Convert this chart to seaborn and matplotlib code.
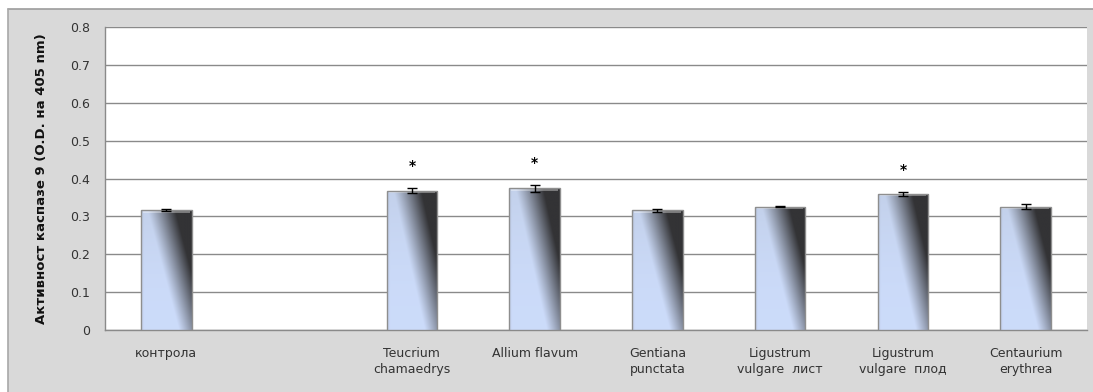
import numpy as np
import pandas as pd
import matplotlib
matplotlib.use("Agg")
import matplotlib.pyplot as plt
from matplotlib.patches import Rectangle
import seaborn as sns

# Caspase-9 activity per extract (O.D. at 405 nm)
categories = ["контрола", "", "Teucrium\nchamaedrys", "Allium flavum",
              "Gentiana\npunctata", "Ligustrum\nvulgare  лист",
              "Ligustrum\nvulgare  плод", "Centaurium\nerythrea"]
values = [0.316, np.nan, 0.368, 0.374, 0.316, 0.326, 0.359, 0.326]
errors = [0.003, np.nan, 0.006, 0.009, 0.004, 0.002, 0.006, 0.006]
significant = [False, False, True, True, False, False, True, False]
yticks = [0.0, 0.1, 0.2, 0.3, 0.4, 0.5, 0.6, 0.7, 0.8]
ytick_labels = ["0", "0.1", "0.2", "0.3", "0.4", "0.5", "0.6", "0.7", "0.8"]
ylabel = "Активност каспазе 9 (O.D. на 405 nm)"

sns.set_theme(style="white")
plt.rcParams["font.family"] = ["DejaVu Sans"]

W, H = 1093, 392
fig = plt.figure(figsize=(W / 100, H / 100), dpi=100)
fig.patch.set_facecolor("white")

# grey chart-area panel behind the plot
panel = Rectangle((8 / W, 0), 1 - 8 / W, 1 - 9 / H, transform=fig.transFigure,
                  facecolor="#d9d9d9", edgecolor="none", zorder=-10)
fig.patches.append(panel)
fig.lines.append(plt.Line2D([8 / W, 1], [1 - 9 / H, 1 - 9 / H], transform=fig.transFigure,
                            color="#9c9c9c", lw=1.2))
fig.lines.append(plt.Line2D([8 / W, 8 / W], [0, 1 - 9 / H], transform=fig.transFigure,
                            color="#a8a8a8", lw=1.2))

ax = fig.add_axes([105 / W, 1 - 330 / H, (1087 - 105) / W, (330 - 27) / H])
ax.set_facecolor("white")

df = pd.DataFrame({"group": categories, "value": values})
plot_df = df.dropna()
sns.barplot(data=plot_df, x="group", y="value", order=categories, width=0.41,
            color="#c8d8f6", edgecolor="#8e8e8e", linewidth=1.0, ax=ax, zorder=3)

# diagonal light-blue to dark gradient inside each bar
ny, nx = 200, 100
u = np.linspace(0, 1, nx)[None, :]
v = np.linspace(1, 0, ny)[:, None]  # 1 at top row
center = 1.02 - 0.62 * v
t = np.clip((u - center) / 0.55 + 0.5, 0, 1)
t = t ** 1.1
light = np.array([0.80, 0.86, 0.98])
light_top = np.array([0.74, 0.79, 0.88])
dark = np.array([0.20, 0.20, 0.21])
lt = light[None, None, :] * (1 - 0.6 * v[..., None] ** 2) + light_top[None, None, :] * (0.6 * v[..., None] ** 2)
img = lt * (1 - t[..., None]) + dark[None, None, :] * t[..., None]
# slight bevel at left edge
edge = np.clip(1 - u / 0.06, 0, 1)[..., None] * 0.18
img = img * (1 - edge) + np.array([0.55, 0.58, 0.65]) * edge
img = np.clip(img, 0, 1)

for patch in ax.patches:
    h = patch.get_height()
    if not np.isfinite(h) or h <= 0:
        continue
    x0, y0 = patch.get_x(), patch.get_y()
    w = patch.get_width()
    im = ax.imshow(img, extent=[x0, x0 + w, y0, y0 + h], aspect="auto",
                   origin="upper", zorder=3.5, interpolation="bilinear")
    im.set_clip_path(patch)
    # thin highlight band at the top of the bar
    ax.add_patch(Rectangle((x0 + w * 0.04, y0 + h - 0.006), w * 0.92, 0.004,
                           facecolor="white", alpha=0.35, edgecolor="none", zorder=3.6))
    patch.set_zorder(3.7)
    patch.set_facecolor("none")

xpos = np.arange(len(categories))
vals = np.array(values, dtype=float)
errs = np.array(errors, dtype=float)
mask = np.isfinite(vals)
ax.errorbar(xpos[mask], vals[mask], yerr=errs[mask], fmt="none", ecolor="black",
            elinewidth=1.0, capsize=3.5, capthick=1.0, zorder=5)

for x, val, err, sig in zip(xpos, vals, errs, significant):
    if sig:
        ax.text(x, val + err + 0.058, "*", ha="center", va="center",
                fontsize=10, fontweight="bold", color="black", zorder=6)

ax.set_ylim(0, 0.8)
ax.set_xlim(-0.5, len(categories) - 0.5)
ax.set_yticks(yticks)
ax.set_yticklabels(ytick_labels)
ax.yaxis.grid(True, color="#8a8a8a", linewidth=1.0, zorder=0)
ax.set_axisbelow(True)

ax.set_xticks(xpos)
ax.set_xticklabels(categories)
ax.set_xticks(np.arange(-0.5, len(categories)), minor=True)
ax.tick_params(axis="x", which="major", length=0, pad=12, labelsize=9, colors="#333333")
ax.tick_params(axis="x", which="minor", length=4, width=1, color="#8a8a8a", direction="out")
ax.tick_params(axis="y", which="major", length=4, width=1, color="#8a8a8a", direction="out",
               pad=7, labelsize=9, labelcolor="#333333")
for lab in ax.get_xticklabels():
    lab.set_linespacing(1.35)

ax.set_xlabel("")
ax.set_ylabel(ylabel, fontsize=9.5, fontweight="bold", color="#111111")
ax.yaxis.set_label_coords((41 - 105) / (1087 - 105), 0.5)
ax.yaxis.label.set_va("center")

for side in ["top", "right"]:
    ax.spines[side].set_visible(False)
for side in ["left", "bottom"]:
    ax.spines[side].set_color("#8a8a8a")
    ax.spines[side].set_linewidth(1.0)

fig.savefig("out.png", dpi=100, facecolor=fig.get_facecolor())
